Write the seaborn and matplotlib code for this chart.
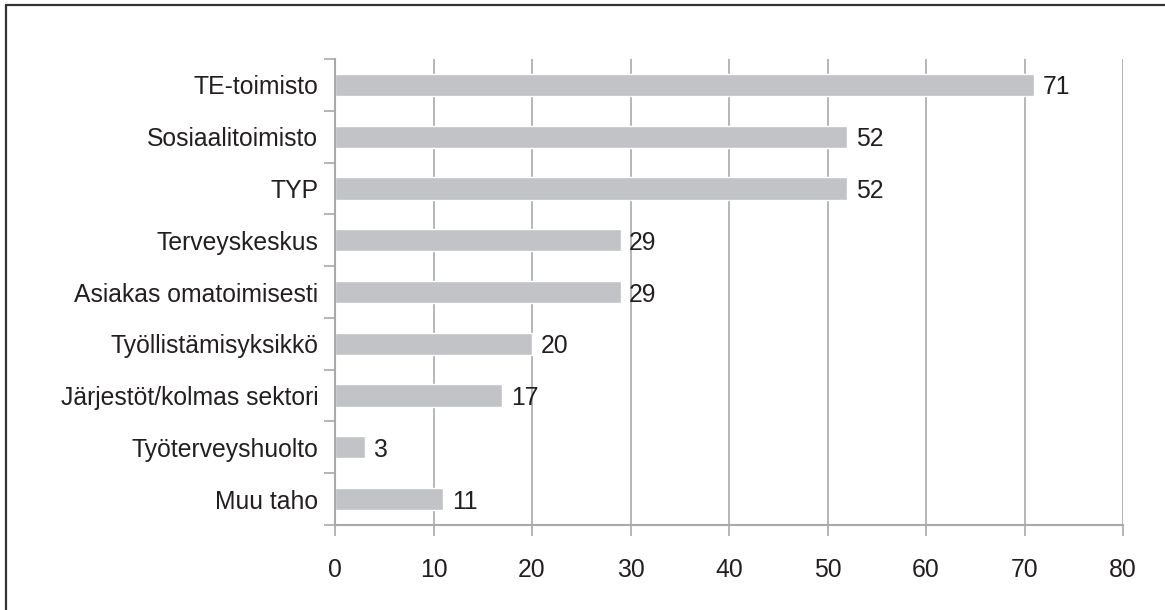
import matplotlib
matplotlib.use("Agg")
import matplotlib.pyplot as plt
import seaborn as sns
import pandas as pd
import numpy as np
from matplotlib.lines import Line2D

categories = ["TE-toimisto", "Sosiaalitoimisto", "TYP", "Terveyskeskus",
              "Asiakas omatoimisesti", "Työllistämisyksikkö",
              "Järjestöt/kolmas sektori", "Työterveyshuolto", "Muu taho"]
values = [71, 52, 52, 29, 29, 20, 17, 3, 11]
x_ticks = [0, 10, 20, 30, 40, 50, 60, 70, 80]

sns.set_style("white")
plt.rcParams["font.family"] = ["Liberation Sans", "DejaVu Sans"]

TEXT = "#231f20"
GRID = "#a7a9ac"
BAR = "#c2c3c6"
FS = 17.8

fig = plt.figure(figsize=(11.65, 6.10), dpi=100)
ax = fig.add_axes([335/1165, 1 - 525/610, (1123-335)/1165, (525-59)/610])

df = pd.DataFrame({"cat": categories, "val": values})
sns.barplot(data=df, y="cat", x="val", orient="h", color=BAR, width=0.43,
            saturation=1, ax=ax, zorder=3)

ax.set_xlim(0, 80)
ax.set_ylim(len(categories) - 0.5, -0.5)
ax.set_xticks(x_ticks)
ax.set_xticklabels([str(t) for t in x_ticks])
ax.set_xlabel("")
ax.set_ylabel("")

ax.grid(axis="x", color=GRID, linewidth=1.2, zorder=0)
ax.grid(axis="y", visible=False)
ax.set_axisbelow(True)

for s in ["top", "right"]:
    ax.spines[s].set_visible(False)
for s in ["left", "bottom"]:
    ax.spines[s].set_color(GRID)
    ax.spines[s].set_linewidth(1.5)
    ax.spines[s].set_zorder(4)

ax.tick_params(axis="x", length=8, width=1.2, color=GRID, pad=16,
               labelsize=FS, labelcolor=TEXT, direction="out", bottom=True)
ax.tick_params(axis="y", which="major", length=0, pad=12,
               labelsize=FS, labelcolor=TEXT, left=True)
ax.set_yticks(np.arange(-0.5, len(categories) + 0.5, 1), minor=True)
ax.tick_params(axis="y", which="minor", length=8, width=1.2, color=GRID,
               direction="out", left=True)

for i, v in enumerate(values):
    ax.annotate(str(v), (v, i), xytext=(6, 0), textcoords="offset points",
                va="center_baseline", ha="left", fontsize=FS, color=TEXT)

fig.add_artist(Line2D([6/1165, 6/1165], [0, 1 - 5/610], transform=fig.transFigure,
                      color="#333333", linewidth=1.6))
fig.add_artist(Line2D([6/1165, 1], [1 - 5/610, 1 - 5/610], transform=fig.transFigure,
                      color="#333333", linewidth=1.6))

fig.savefig("out.png", dpi=100)
